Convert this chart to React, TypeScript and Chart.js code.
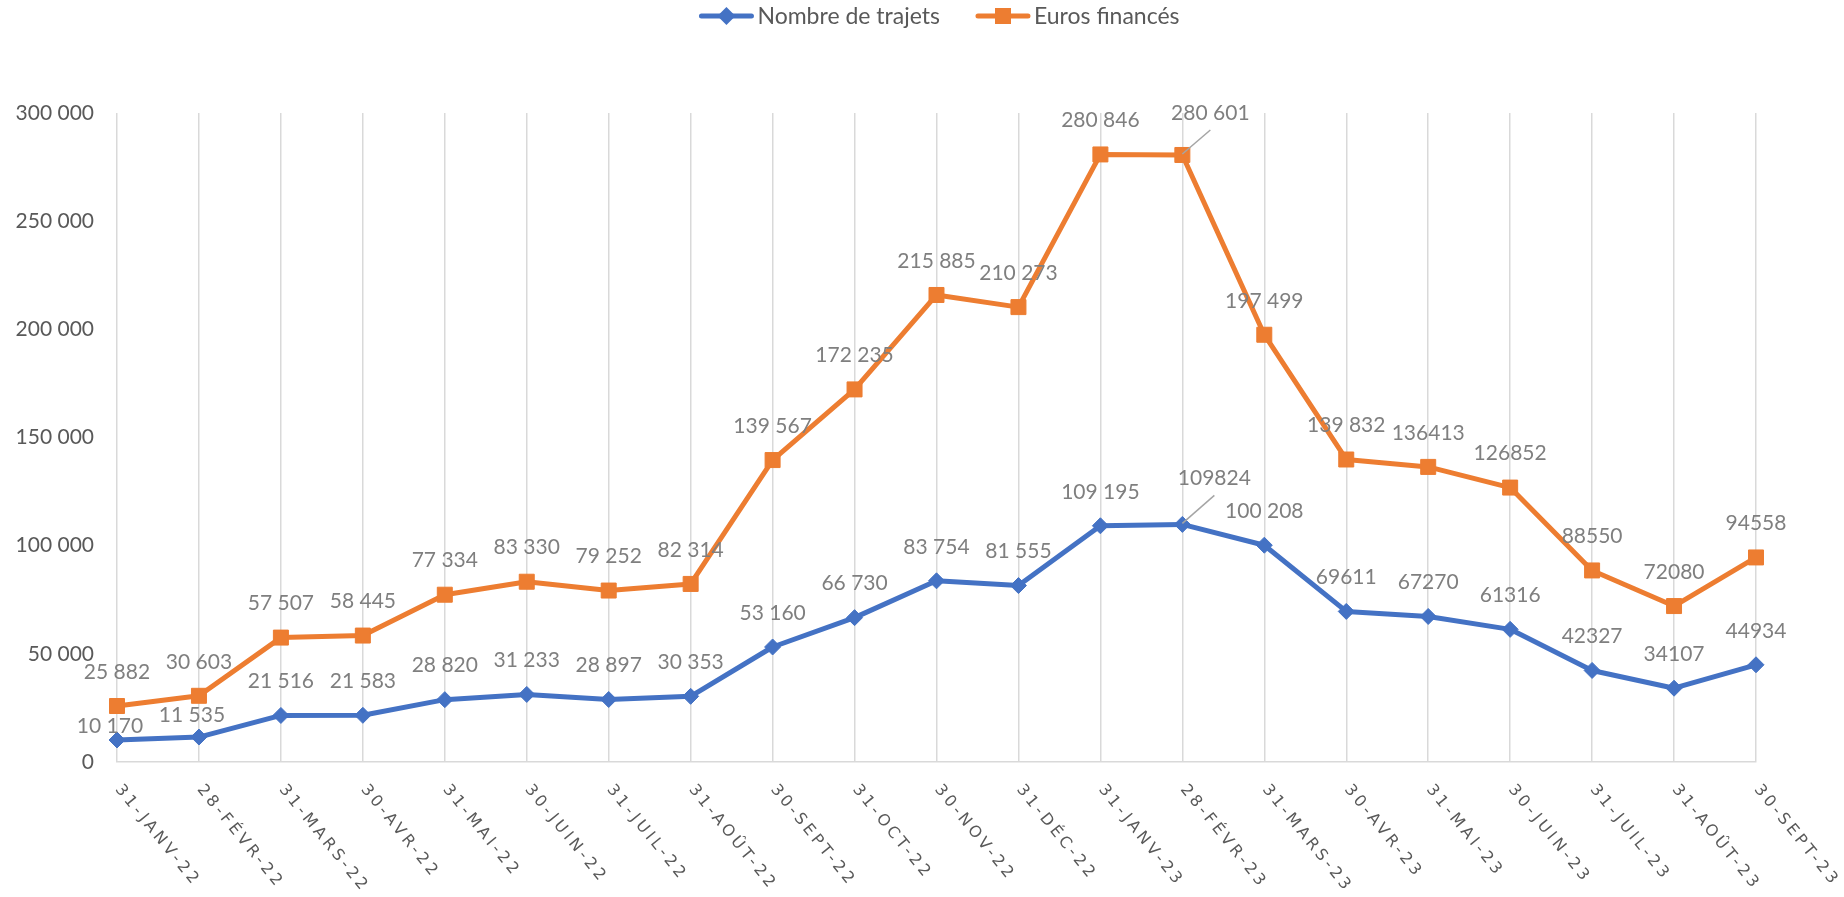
import { useEffect, useRef } from "react";
import { Chart, registerables } from "chart.js";

Chart.register(...registerables);

// ---------- DATA ----------
const categories = [
  "31-JANV-22", "28-FÉVR-22", "31-MARS-22", "30-AVR-22", "31-MAI-22", "30-JUIN-22",
  "31-JUIL-22", "31-AOÛT-22", "30-SEPT-22", "31-OCT-22", "30-NOV-22", "31-DÉC-22",
  "31-JANV-23", "28-FÉVR-23", "31-MARS-23", "30-AVR-23", "31-MAI-23", "30-JUIN-23",
  "31-JUIL-23", "31-AOÛT-23", "30-SEPT-23",
];

const trajets = [
  10170, 11535, 21516, 21583, 28820, 31233, 28897, 30353, 53160, 66730, 83754,
  81555, 109195, 109824, 100208, 69611, 67270, 61316, 42327, 34107, 44934,
];

const euros = [
  25882, 30603, 57507, 58445, 77334, 83330, 79252, 82314, 139567, 172235, 215885,
  210273, 280846, 280601, 197499, 139832, 136413, 126852, 88550, 72080, 94558,
];

// indices whose data labels are written without thousands separator
const trajetsUngrouped = [13, 15, 16, 17, 18, 19, 20];
const eurosUngrouped = [16, 17, 18, 19, 20];

const yMin = 0;
const yMax = 300000;
const yStep = 50000;

const seriesNames = ["Nombre de trajets", "Euros financés"];

// ---------- STYLE ----------
const BLUE = "#4472C4";
const ORANGE = "#ED7D31";
const GRID = "#d9d9d9";
const AXIS_TEXT = "#595959";
const LABEL_TEXT = "#7f7f7f";
const NUM_FONT = "Lato";

const DEFAULT_LABEL_OFFSET: [number, number] = [0, -34];
const labelNudges: Record<number, [number, number]>[] = [
  { 0: [-7, -14], 1: [-7, -22], 13: [32, -46] },
  { 13: [28, -42] },
];
const leaderLines: number[][] = [[13], [13]];
const ungroupedBySeries = [trajetsUngrouped, eurosUngrouped];

function fmt(v: number, grouped: boolean) {
  const s = String(Math.round(v));
  return grouped ? s.replace(/\B(?=(\d{3})+(?!\d))/g, " ") : s;
}

const dataLabelsPlugin = {
  id: "dataLabelsCustom",
  afterDatasetsDraw(chart: any) {
    const ctx = chart.ctx;
    ctx.save();
    ctx.font = `21px ${NUM_FONT}`;
    ctx.fillStyle = LABEL_TEXT;
    ctx.textAlign = "center";
    ctx.textBaseline = "middle";
    chart.data.datasets.forEach((ds: any, di: number) => {
      const meta = chart.getDatasetMeta(di);
      meta.data.forEach((pt: any, i: number) => {
        const v = ds.data[i] as number;
        const off = labelNudges[di][i] || DEFAULT_LABEL_OFFSET;
        const x = pt.x + off[0];
        const y = pt.y + off[1];
        if (leaderLines[di].includes(i)) {
          ctx.save();
          ctx.strokeStyle = "#a5a5a5";
          ctx.lineWidth = 1.5;
          ctx.beginPath();
          ctx.moveTo(pt.x, pt.y - 1);
          ctx.lineTo(x, y + 17);
          ctx.stroke();
          ctx.restore();
        }
        ctx.fillText(fmt(v, !ungroupedBySeries[di].includes(i)), x, y);
      });
    });
    ctx.restore();
  },
};

const X_LABEL_ANGLE = (51 * Math.PI) / 180;

const xLabelsPlugin = {
  id: "xLabelsRotated",
  afterDraw(chart: any) {
    const ctx = chart.ctx;
    const xs = chart.scales.x;
    ctx.save();
    ctx.font = '16px "DejaVu Sans"';
    ctx.fillStyle = AXIS_TEXT;
    (ctx as any).letterSpacing = "3.5px";
    ctx.textAlign = "left";
    ctx.textBaseline = "middle";
    (chart.data.labels as string[]).forEach((lab, i) => {
      const x = xs.getPixelForTick(i);
      ctx.save();
      ctx.translate(x + 1, xs.top + 25);
      ctx.rotate(X_LABEL_ANGLE);
      ctx.fillText(lab, 0, 0);
      ctx.restore();
    });
    ctx.restore();
  },
};

function drawMarker(ctx: CanvasRenderingContext2D, style: string, x: number, y: number, color: string) {
  ctx.fillStyle = color;
  ctx.beginPath();
  if (style === "rectRot") {
    const r = 9;
    ctx.moveTo(x - r, y);
    ctx.lineTo(x, y - r);
    ctx.lineTo(x + r, y);
    ctx.lineTo(x, y + r);
    ctx.closePath();
  } else {
    const h = 8;
    ctx.rect(x - h, y - h, 2 * h, 2 * h);
  }
  ctx.fill();
}

const legendPlugin = {
  id: "legendCustom",
  afterDraw(chart: any) {
    const ctx = chart.ctx;
    const area = chart.chartArea;
    const items = [
      { label: seriesNames[0], color: BLUE, style: "rectRot" },
      { label: seriesNames[1], color: ORANGE, style: "rect" },
    ];
    const lineLen = 50;
    const gapText = 6;
    const itemGap = 38;
    ctx.save();
    ctx.font = `23px ${NUM_FONT}`;
    const widths = items.map((it) => lineLen + gapText + ctx.measureText(it.label).width);
    const total = widths.reduce((a, b) => a + b, 0) + itemGap * (items.length - 1);
    let x = (area.left + area.right) / 2 - total / 2 + 4;
    const y = 16;
    items.forEach((it, k) => {
      ctx.strokeStyle = it.color;
      ctx.lineWidth = 5;
      ctx.lineCap = "round";
      ctx.beginPath();
      ctx.moveTo(x, y);
      ctx.lineTo(x + lineLen, y);
      ctx.stroke();
      drawMarker(ctx, it.style, x + lineLen / 2, y, it.color);
      ctx.fillStyle = AXIS_TEXT;
      ctx.textAlign = "left";
      ctx.textBaseline = "middle";
      ctx.fillText(it.label, x + lineLen + gapText, y + 1);
      x += widths[k] + itemGap;
    });
    ctx.restore();
  },
};

export default function App() {
  const canvasRef = useRef<HTMLCanvasElement | null>(null);

  useEffect(() => {
    if (!canvasRef.current) return;
    const chart = new Chart(canvasRef.current, {
      type: "line",
      data: {
        labels: categories,
        datasets: [
          {
            label: seriesNames[0],
            data: trajets,
            borderColor: BLUE,
            backgroundColor: BLUE,
            borderWidth: 5,
            borderJoinStyle: "round",
            borderCapStyle: "round",
            pointStyle: "rectRot",
            pointRadius: 8,
            pointBorderWidth: 1,
            pointBackgroundColor: BLUE,
            pointBorderColor: BLUE,
            tension: 0,
          },
          {
            label: seriesNames[1],
            data: euros,
            borderColor: ORANGE,
            backgroundColor: ORANGE,
            borderWidth: 5,
            borderJoinStyle: "round",
            borderCapStyle: "round",
            pointStyle: "rect",
            pointRadius: 10.6,
            pointBorderWidth: 1,
            pointBackgroundColor: ORANGE,
            pointBorderColor: ORANGE,
            tension: 0,
          },
        ],
      },
      options: {
        responsive: false,
        animation: false,
        devicePixelRatio: 1,
        layout: { padding: { top: 113, right: 88, bottom: 0, left: 0 } },
        plugins: {
          legend: { display: false },
          tooltip: { enabled: false },
        },
        scales: {
          x: {
            offset: false,
            grid: { display: true, color: GRID, lineWidth: 1.5, drawTicks: false },
            border: { display: true, color: GRID, width: 1.5 },
            ticks: { display: false },
            afterFit: (s: any) => {
              s.height = 135;
            },
          },
          y: {
            min: yMin,
            max: yMax,
            ticks: {
              stepSize: yStep,
              callback: (v: any) => fmt(Number(v), true),
              color: AXIS_TEXT,
              font: { family: NUM_FONT, size: 21 },
              padding: 23,
            },
            grid: { display: false, drawTicks: false },
            border: { display: false },
            afterFit: (s: any) => {
              s.width = 117;
            },
          },
        },
      } as any,
      plugins: [dataLabelsPlugin, xLabelsPlugin, legendPlugin],
    });
    let alive = true;
    Promise.all([
      document.fonts.load(`21px ${NUM_FONT}`),
      document.fonts.load('16px "DejaVu Sans"'),
    ]).then(() => {
      if (alive) chart.update();
    });
    return () => {
      alive = false;
      chart.destroy();
    };
  }, []);

  return (
    <div style={{ position: "absolute", left: 0, top: 0, width: 1844, height: 897, background: "#fff" }}>
      <canvas ref={canvasRef} width={1844} height={897} style={{ width: 1844, height: 897 }} />
    </div>
  );
}
